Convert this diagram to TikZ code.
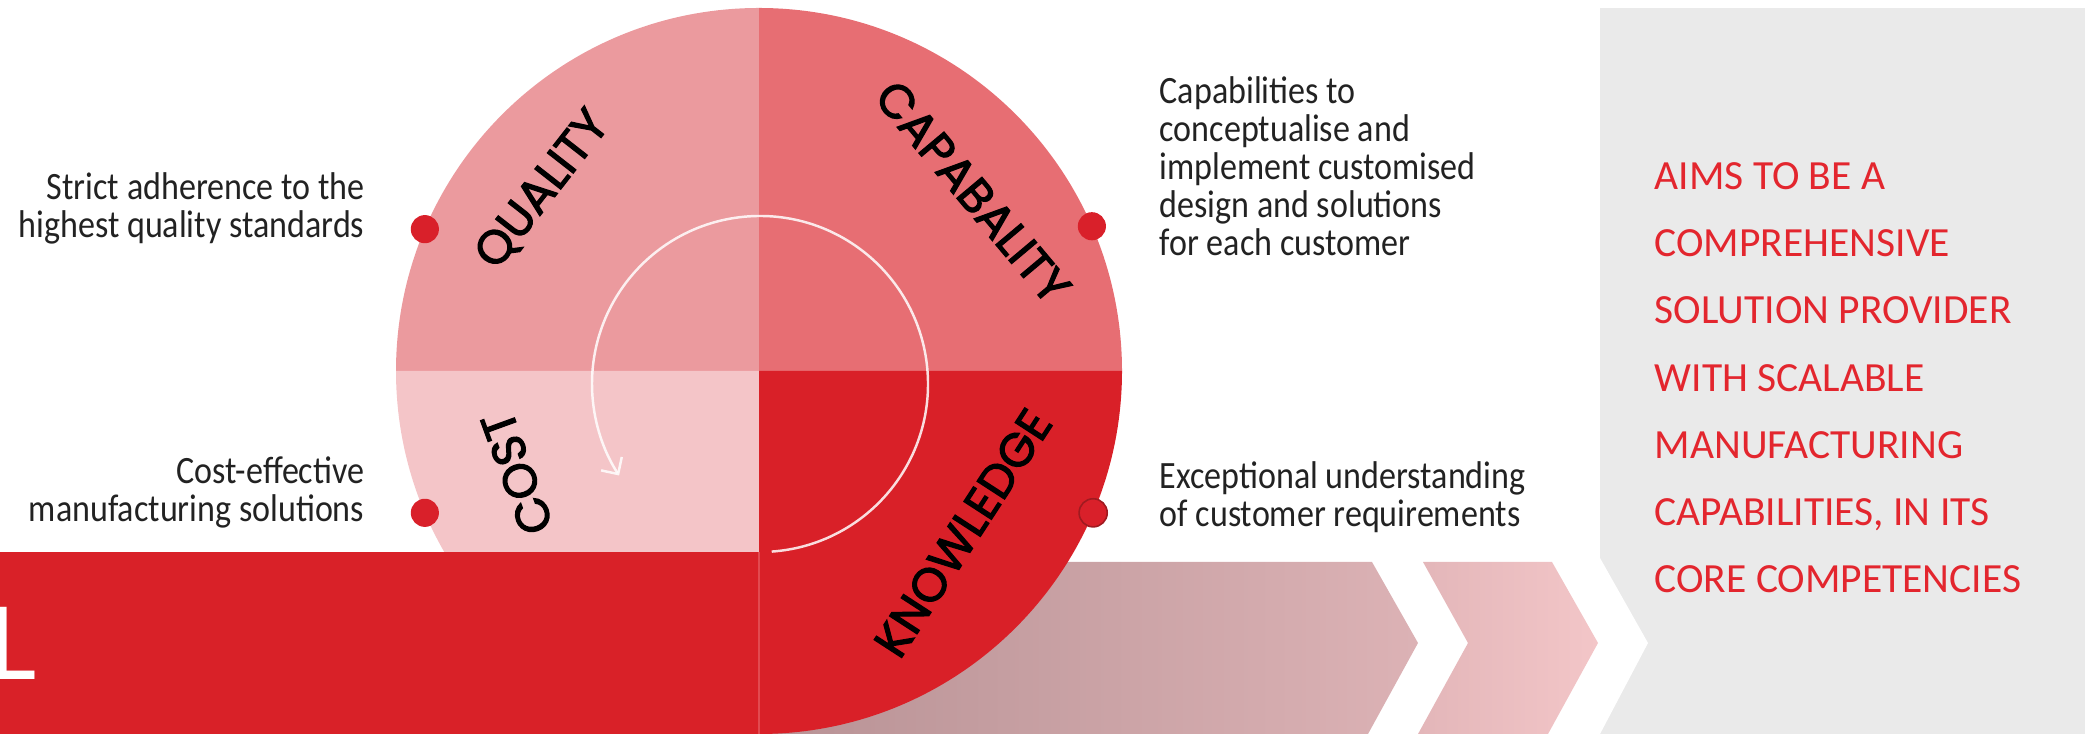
\documentclass[tikz,border=0pt]{standalone}
\usepackage{fontspec}
\usetikzlibrary{arrows.meta}

\newfontfamily\bodyfont{Carlito}[FakeStretch=0.88]
\newfontfamily\capsfont{Carlito}
\newfontfamily\wordfont{Poppins}[FakeBold=2.5]

\definecolor{qualitycol}{HTML}{EB9A9E}
\definecolor{capabcol}{HTML}{E76E73}
\definecolor{costcol}{HTML}{F4C5C8}
\definecolor{knowcol}{HTML}{D92028}
\definecolor{barred}{HTML}{D92128}
\definecolor{seamcol}{HTML}{E24A50}
\definecolor{panelgrey}{HTML}{EAEAEA}
\definecolor{bandleft}{HTML}{B48F92}
\definecolor{bandmid}{HTML}{DCB2B5}
\definecolor{bandpale}{HTML}{E3B6B9}
\definecolor{bandright}{HTML}{F3C6C8}
\definecolor{dotred}{HTML}{D9202A}
\definecolor{dotedge}{HTML}{A01A20}
\definecolor{aimsred}{HTML}{E3262E}
\definecolor{sidegrey}{HTML}{222222}

\tikzset{
	wordlabel/.style = { font = \wordfont\fontsize{13.4}{16}\selectfont, text = black, inner sep = 0 },
	side text/.style = { font = \bodyfont\fontsize{11}{10.8}\selectfont, text = sidegrey, inner sep = 0 },
	aims text/.style = { font = \capsfont\fontsize{11.8}{19.1}\selectfont, text = aimsred, inner sep = 0, align = left },
	marker/.style = { circle, fill = dotred, minimum size = 8pt, inner sep = 0 }
}

\begin{document}
\begin{tikzpicture}[ x = 0.01cm, y = 0.01cm ]
	\useasboundingbox ( 0, 0 ) rectangle ( 2100, 734 );

	% серая панель справа
	\fill [ panelgrey ] ( 1600, 0 ) rectangle ( 2085, 726 );

	% полоса со стрелками
	\shade [ left color = bandleft, right color = bandmid ] ( 700, 172 ) -- ( 1372, 172 ) -- ( 1418, 91 ) -- ( 1368, 0 ) -- ( 700, 0 ) -- cycle;
	\shade [ left color = bandpale, right color = bandright ] ( 1423, 172 ) -- ( 1552, 172 ) -- ( 1598, 91 ) -- ( 1548, 0 ) -- ( 1418, 0 ) -- ( 1468, 91 ) -- cycle;
	\fill [ white ] ( 1600, 176 ) -- ( 1648, 91 ) -- ( 1600, 0 ) -- cycle;

	% круг из четырёх четвертей
	\coordinate (c) at ( 759, 363 );
	\fill [ qualitycol ] (c) -- ++( 180 : 363 ) arc [ start angle = 180, end angle = 90, radius = 363 ] -- cycle;
	\fill [ capabcol ] (c) -- ++( 90 : 363 ) arc [ start angle = 90, end angle = 0, radius = 363 ] -- cycle;
	\fill [ costcol ] (c) -- ++( 270 : 363 ) arc [ start angle = 270, end angle = 180, radius = 363 ] -- cycle;
	\fill [ knowcol ] (c) -- ++( 0 : 363 ) arc [ start angle = 0, end angle = -90, radius = 363 ] -- cycle;

	% красная полоса слева
	\fill [ barred ] ( 0, 0 ) rectangle ( 759, 182 );
	\draw [ seamcol, line width = 0.45pt ] ( 759, 0 ) -- ( 759, 182 );
	\node [ anchor = base west, inner sep = 0, text = white, font = \capsfont\fontsize{32}{32}\selectfont ] (cutl) at ( -11, 54 ) {L};

	% круговая стрелка
	\draw [ white, opacity = 0.85, line width = 0.7pt, -{ Straight Barb[ length = 3.5pt, width = 7pt ] } ] ( 760, 350 ) ++( -86 : 168 ) arc [ start angle = -86, end angle = 213, radius = 168 ];

	% подписи четвертей
	\node [ wordlabel, rotate = 52 ] (quality) at ( 543, 544 ) {QUALITY};
	\node [ wordlabel, rotate = -50 ] (capab) at ( 973, 542 ) {CAPABALITY};
	\node [ wordlabel, rotate = 110 ] (cost) at ( 517, 261 ) {COST};
	\node [ wordlabel, rotate = 57 ] (know) at ( 963, 201 ) {KNOWLEDGE};

	% точки на краю круга
	\path (c) ++( 157 : 363 ) node [ marker ] (dq) {};
	\path (c) ++( 203 : 363 ) node [ marker ] (dc) {};
	\path (c) ++( 23.5 : 363 ) node [ marker ] (dk) {};
	\path (c) ++( -23 : 363 ) node [ marker, draw = dotedge, line width = 0.45pt ] (dn) {};

	% тексты
	\node [ side text, align = right, anchor = north east ] (tq) at ( 365, 562 ) {Strict adherence to the\\highest quality standards};
	\node [ side text, align = right, anchor = north east ] (tc) at ( 365, 278 ) {Cost-effective\\manufacturing solutions};
	\node [ side text, align = left, anchor = north west ] (tk) at ( 1159, 658 ) {Capabilities to\\conceptualise and\\implement customised\\design and solutions\\for each customer};
	\node [ side text, align = left, anchor = north west ] (tn) at ( 1159, 273 ) {Exceptional understanding\\of customer requirements};

	% цель
	\node [ aims text, anchor = north west ] (aims) at ( 1654, 572 ) {AIMS TO BE A\\COMPREHENSIVE\\SOLUTION PROVIDER\\WITH SCALABLE\\MANUFACTURING\\CAPABILITIES, IN ITS\\CORE COMPETENCIES};
\end{tikzpicture}
\end{document}
